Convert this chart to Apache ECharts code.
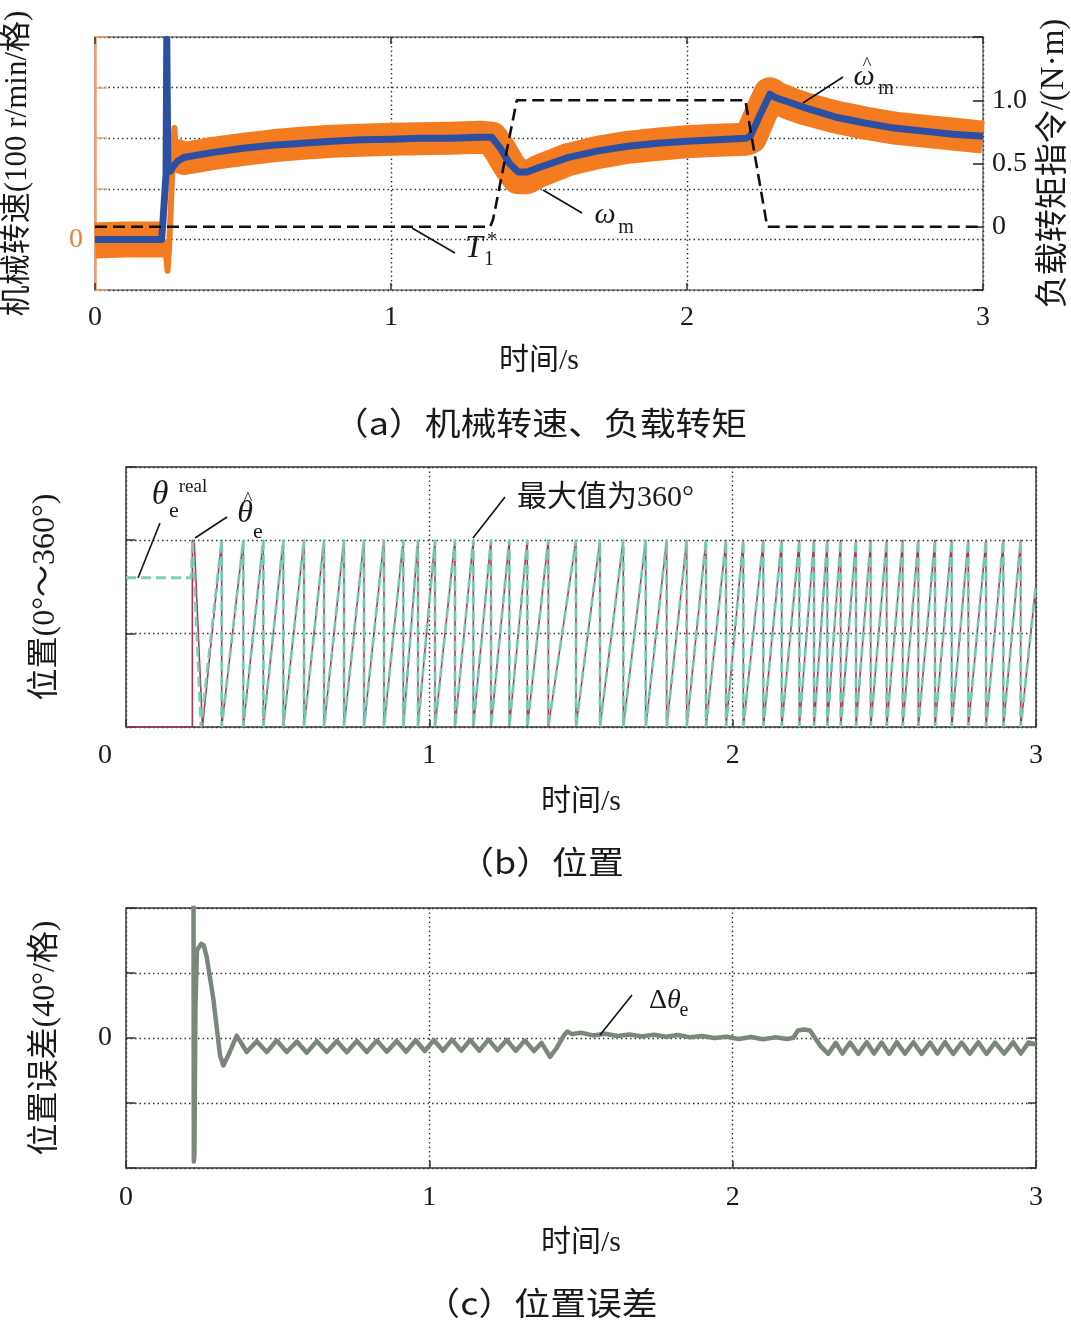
<!DOCTYPE html>
<html><head><meta charset="utf-8">
<script src="https://cdn.jsdelivr.net/npm/echarts@6/dist/echarts.min.js"></script>
<style>html,body{margin:0;padding:0;background:#fff}#c{width:1071px;height:1320px}</style>
</head><body><div id="c"></div>
<script>
// ---------------- DATA ----------------
const timeTicks = [0, 1, 2, 3];
const torqueTickLabels = { '0': '0', '0.5': '0.5', '1': '1.0' };
// (a) estimated mechanical speed, unit 100 r/min
const speedEstimate = [
  [0, 0.0], [0.1, 0.0], [0.2, 0.0], [0.225, 0.0], [0.229, 0.3], [0.24, 1.3], [0.2425, 3.95], [0.246, 1.5],
  [0.255, 1.35], [0.265, 1.45], [0.28, 1.55], [0.3, 1.62], [0.35, 1.67], [0.4, 1.72], [0.5, 1.8], [0.6, 1.86],
  [0.7, 1.9], [0.8, 1.94], [0.9, 1.97], [1.0, 1.98], [1.1, 2.0], [1.2, 2.0], [1.3, 2.02], [1.34, 2.02],
  [1.37, 1.8], [1.4, 1.5], [1.43, 1.33], [1.46, 1.33], [1.5, 1.42], [1.6, 1.62], [1.7, 1.75], [1.8, 1.84],
  [1.9, 1.9], [2.0, 1.94], [2.1, 1.97], [2.2, 2.0], [2.215, 2.05], [2.25, 2.5], [2.28, 2.87], [2.3, 2.8],
  [2.35, 2.7], [2.4, 2.6], [2.5, 2.42], [2.6, 2.3], [2.7, 2.2], [2.8, 2.14], [2.9, 2.08], [3.0, 2.04]
];
// (a) measured mechanical speed, unit 100 r/min: before start, start-up jump, after start
const speedMeasuredBefore = [[0, -0.02], [0.1, 0.0], [0.2, 0.0], [0.234, 0.0]];
const speedMeasuredJump = [
  [0.234, 0.0], [0.24, -0.3], [0.245, -0.62], [0.25, -0.2], [0.256, 0.6], [0.262, 1.5], [0.268, 2.2], [0.274, 1.7], [0.282, 1.65]
];
const speedMeasuredAfter = [
  [0.268, 1.62], [0.28, 1.65], [0.3, 1.6], [0.35, 1.65], [0.4, 1.7], [0.5, 1.78], [0.6, 1.85], [0.7, 1.9],
  [0.8, 1.94], [0.9, 1.96], [1.0, 1.98], [1.1, 1.99], [1.2, 2.0], [1.3, 2.02], [1.34, 2.0], [1.37, 1.75],
  [1.4, 1.45], [1.43, 1.22], [1.46, 1.22], [1.5, 1.35], [1.6, 1.58], [1.7, 1.72], [1.8, 1.82], [1.9, 1.88],
  [2.0, 1.93], [2.1, 1.96], [2.2, 1.98], [2.215, 2.02], [2.25, 2.5], [2.28, 2.88], [2.3, 2.8], [2.35, 2.68],
  [2.4, 2.58], [2.5, 2.42], [2.6, 2.3], [2.7, 2.2], [2.8, 2.14], [2.9, 2.08], [3.0, 2.02]
];
// (a) load torque command, N·m
const torqueCommand = [
  [0, 0], [1.335, 0], [1.345, 0.06], [1.425, 1.0], [2.197, 1.0], [2.271, 0], [3.0, 0]
];
// (b) electrical position: times (s) where the 0~360° sawtooth wraps
const thetaWrapTimes = [
  0.3155, 0.3867, 0.4527, 0.5186, 0.5868, 0.6528, 0.7187, 0.7846, 0.8505, 0.9142, 0.9626, 1.0187,
  1.0846, 1.1450, 1.2033, 1.2637, 1.3230, 1.3922, 1.4835, 1.5626, 1.6395, 1.7133, 1.7825, 1.8485,
  1.9121, 1.9780, 2.0351, 2.1011, 2.1617, 2.2197, 2.2682, 2.3120, 2.3562, 2.4066, 2.4551, 2.5078,
  2.5606, 2.6120, 2.6671, 2.7221, 2.7768, 2.8352, 2.8923, 2.9496
];
const thetaEstStart = [[0, 0], [0.2187, 0], [0.2187, 360], [0.2253, 352], [0.252, 0]];
const thetaRealStart = [[0, 287], [0.2145, 287], [0.2195, 360], [0.247, 0]];
const thetaTeethStart = 0.252;
const thetaEndValue = 275;
// (c) position error, degrees
const positionError = [
  [0.2225, 95], [0.2235, -76], [0.2255, -72], [0.229, 20], [0.234, 54], [0.248, 58], [0.256, 57], [0.266, 50],
  [0.288, 24], [0.31, -10.8], [0.321, -16.9], [0.337, -10.8], [0.365, 1.4],
  [0.398, -8.6], [0.431, -2.0], [0.464, -8.6], [0.497, -1.6], [0.53, -8.6], [0.563, -2.2], [0.596, -9.0],
  [0.629, -2.0], [0.662, -8.6], [0.695, -1.8], [0.728, -8.8], [0.761, -1.8], [0.794, -8.6], [0.827, -1.6],
  [0.86, -8.4], [0.892, -1.8], [0.924, -8.4], [0.955, -1.4], [0.985, -8.0], [1.015, -1.2], [1.045, -7.8],
  [1.075, -1.0], [1.105, -7.8], [1.135, -1.2], [1.165, -7.8], [1.195, -1.0], [1.225, -7.6], [1.255, -1.2],
  [1.285, -7.8], [1.315, -1.6], [1.345, -8.0], [1.37, -3.0], [1.398, -11.6], [1.42, -6.0], [1.445, 2.0],
  [1.455, 4.0], [1.47, 2.4], [1.5, 3.2], [1.54, 1.6], [1.58, 2.6], [1.62, 1.2], [1.66, 2.2], [1.7, 1.0],
  [1.74, 2.0], [1.78, 0.8], [1.82, 1.8], [1.86, 0.4], [1.9, 1.2], [1.94, 0.0], [1.98, 0.8], [2.02, -0.6],
  [2.06, 0.6], [2.1, -0.8], [2.14, 0.4], [2.18, -0.6], [2.2, 0.2], [2.215, 4.6], [2.235, 5.2], [2.255, 4.6],
  [2.27, 0.5], [2.29, -5.0], [2.315, -9.8],
  [2.34, -3.0], [2.362, -9.6], [2.387, -2.8], [2.414, -9.8], [2.442, -2.6], [2.466, -9.6], [2.491, -2.8],
  [2.516, -9.8], [2.541, -2.6], [2.568, -9.6], [2.596, -2.6], [2.623, -9.8], [2.651, -2.8], [2.675, -9.6],
  [2.7, -2.6], [2.727, -9.8], [2.755, -2.8], [2.782, -9.6], [2.81, -2.6], [2.837, -9.8], [2.865, -2.8],
  [2.895, -9.6], [2.925, -2.6], [2.95, -9.6], [2.975, -2.8], [3.0, -4.0]
];

// ---------------- BUILD ----------------
function teeth(prefix) {
  const pts = prefix.slice();
  pts.push([thetaTeethStart, 0]);
  thetaWrapTimes.forEach(w => { pts.push([w, 360]); pts.push([w, 0]); });
  pts.push([3, thetaEndValue]);
  return pts;
}

const SERIF = "'Liberation Serif','Noto Sans CJK SC',serif";
const CJK = "'Noto Sans CJK SC','Liberation Serif',sans-serif";
const INK = '#1a1a1a';
const lbl = { fontFamily: SERIF, fontSize: 28, color: INK };
const dotted = { show: true, lineStyle: { color: '#333', width: 1.4, type: [1.5, 3] } };
const noLine = { show: false, onZero: false };
const tickIn = (len, color) => ({ show: true, inside: true, length: len, lineStyle: { color: color || '#333', width: 1.5 } });
const nameStyle = { fontFamily: SERIF, fontSize: 31, color: INK };

function xAxisFor(grid, extra) {
  return Object.assign({
    gridIndex: grid, type: 'value', min: 0, max: 3, interval: 1, position: 'bottom',
    axisLine: noLine, axisTick: tickIn(7),
    splitLine: dotted,
    axisLabel: Object.assign({ margin: 14, formatter: v => (timeTicks.indexOf(v) >= 0 ? String(v) : '') }, lbl),
    name: '时间/s', nameLocation: 'middle', nameGap: 56,
    nameTextStyle: { fontFamily: SERIF, fontSize: 30, color: INK }
  }, extra || {});
}

const chart = echarts.init(document.getElementById('c'), null, { renderer: 'canvas' });

const option = {
  animation: false,
  backgroundColor: '#fff',
  grid: [
    { left: 95, top: 37, width: 888, height: 253, show: true, borderColor: '#777', borderWidth: 1.5, outerBoundsMode: 'none', containLabel: false },
    { left: 126, top: 467, width: 910, height: 260, show: true, borderColor: '#3a3a3a', borderWidth: 1.5, outerBoundsMode: 'none', containLabel: false },
    { left: 126, top: 908, width: 910, height: 260, show: true, borderColor: '#3a3a3a', borderWidth: 1.5, outerBoundsMode: 'none', containLabel: false }
  ],
  xAxis: [
    xAxisFor(0),
    { gridIndex: 0, type: 'value', min: 0, max: 3, interval: 1, position: 'top', axisLine: noLine,
      axisTick: tickIn(7), axisLabel: { show: false }, splitLine: { show: false } },
    xAxisFor(1, {
      nameGap: 60, axisLabel: Object.assign({ margin: 15,
        formatter: v => (v === 0 ? '{s|0}' : (timeTicks.indexOf(v) >= 0 ? String(v) : '')),
        rich: { s: { padding: [0, 42, 0, 0], fontFamily: SERIF, fontSize: 28, color: INK } } }, lbl)
    }),
    xAxisFor(2, { nameGap: 60, axisLabel: Object.assign({ margin: 16,
        formatter: v => (timeTicks.indexOf(v) >= 0 ? String(v) : '') }, lbl) })
  ],
  yAxis: [
    { gridIndex: 0, type: 'value', min: -1, max: 4, interval: 1, position: 'left',
      axisLine: { show: true, onZero: false, lineStyle: { color: '#f2a274', width: 2.5 } },
      axisTick: tickIn(12, '#f2a274'), splitLine: dotted,
      axisLabel: { margin: 12, fontFamily: SERIF, fontSize: 28, color: '#e8803c', formatter: v => (v === 0 ? '0' : '') },
      name: '机械转速(100 r/min/格)', nameLocation: 'middle', nameRotate: 90, nameGap: 62, nameTextStyle: nameStyle },
    { gridIndex: 0, type: 'value', min: -0.5, max: 1.5, interval: 0.5, position: 'right',
      axisLine: noLine, axisTick: tickIn(10, '#222'), splitLine: { show: false },
      axisLabel: Object.assign({ margin: 9, formatter: v => (torqueTickLabels[String(v)] || '') }, lbl),
      name: '负载转矩指令/(N·m)', nameLocation: 'middle', nameRotate: 90, nameGap: 54, nameTextStyle: Object.assign({}, nameStyle, { fontSize: 33 }) },
    { gridIndex: 1, type: 'value', min: 0, max: 500, interval: 180, position: 'left',
      axisLine: noLine, axisTick: tickIn(9), splitLine: dotted, axisLabel: { show: false },
      name: '位置(0°～360°)', nameLocation: 'middle', nameRotate: 90, nameGap: 64, nameTextStyle: Object.assign({}, nameStyle, { fontSize: 32 }) },
    { gridIndex: 2, type: 'value', min: -80, max: 80, interval: 40, position: 'left',
      axisLine: noLine, axisTick: tickIn(9), splitLine: dotted,
      axisLabel: Object.assign({ margin: 14, formatter: v => (v === 0 ? '0' : '') }, lbl),
      name: '位置误差(40°/格)', nameLocation: 'middle', nameRotate: 90, nameGap: 64, nameTextStyle: Object.assign({}, nameStyle, { fontSize: 32 }) },
    { gridIndex: 2, type: 'value', min: -80, max: 80, interval: 40, position: 'right',
      axisLine: noLine, axisTick: tickIn(8), splitLine: { show: false }, axisLabel: { show: false } }
  ],
  series: [
    { name: 'ωm', type: 'line', xAxisIndex: 0, yAxisIndex: 0, data: speedMeasuredBefore, symbol: 'none', silent: true,
      lineStyle: { color: '#f47b20', width: 36 }, z: 2 },
    { name: 'ωm', type: 'line', xAxisIndex: 0, yAxisIndex: 0, data: speedMeasuredJump, symbol: 'none', silent: true,
      lineStyle: { color: '#f47b20', width: 6, join: 'round' }, z: 2 },
    { name: 'ωm', type: 'line', xAxisIndex: 0, yAxisIndex: 0, data: speedMeasuredAfter, symbol: 'none', silent: true,
      lineStyle: { color: '#f47b20', width: 33, join: 'round' }, z: 2 },
    { name: 'ω̂m', type: 'line', xAxisIndex: 0, yAxisIndex: 0, data: speedEstimate, symbol: 'none', silent: true,
      lineStyle: { color: '#2a4fa3', width: 7, join: 'round' }, z: 3 },
    { name: 'T1*', type: 'line', xAxisIndex: 0, yAxisIndex: 1, data: torqueCommand, symbol: 'none', silent: true,
      lineStyle: { color: '#111', width: 2.6, type: [12, 6] }, z: 4 },
    { name: 'θ̂e', type: 'line', xAxisIndex: 2, yAxisIndex: 2, data: teeth(thetaEstStart), symbol: 'none', silent: true,
      lineStyle: { color: '#b3334f', width: 1.6 }, z: 2 },
    { name: 'θe real', type: 'line', xAxisIndex: 2, yAxisIndex: 2, data: teeth(thetaRealStart), symbol: 'none', silent: true,
      lineStyle: { color: '#74ccb9', width: 2.8, type: [10, 5], opacity: 0.95 }, z: 3 },
    { name: 'Δθe', type: 'line', xAxisIndex: 3, yAxisIndex: 3, data: positionError, symbol: 'none', silent: true,
      lineStyle: { color: '#7a877a', width: 4.5, join: 'round' }, z: 2 }
  ]
};

// annotations (symbols, leader lines, captions)
function txt(x, y, text, size, opts) {
  opts = opts || {};
  const el = { type: 'text', x: x, y: y, silent: true, z: 100,
    style: { text: text, fontFamily: opts.family || SERIF, fontSize: size, fontStyle: opts.italic ? 'italic' : 'normal',
      fontWeight: opts.weight || 'normal', fill: opts.color || INK, align: opts.align || 'center', verticalAlign: 'middle' } };
  if (opts.scaleX) { el.scaleX = opts.scaleX; }
  return el;
}
function leader(x1, y1, x2, y2) {
  return { type: 'line', silent: true, z: 100, shape: { x1: x1, y1: y1, x2: x2, y2: y2 }, style: { stroke: '#111', lineWidth: 1.6 } };
}
option.graphic = [
  // (a)
  leader(803, 103, 843, 77), txt(864, 77, 'ω', 30, { italic: true }), txt(867, 65, '^', 19), txt(886, 89, 'm', 20),
  leader(543, 190, 582, 213), txt(605, 215, 'ω', 30, { italic: true }), txt(626, 228, 'm', 20),
  leader(412, 228, 455, 253), txt(474, 249, 'T', 32, { italic: true }), txt(489, 260, '1', 20), txt(492, 241, '*', 20),
  txt(540, 423, '（a）机械转速、负载转矩', 32, { family: CJK, scaleX: 1.12 }),
  // (b)
  txt(160, 495, 'θ', 34, { italic: true }), txt(174, 511, 'e', 22), txt(193, 487, 'real', 19),
  leader(160, 523, 138, 578),
  txt(245, 514, 'θ', 32, { italic: true }), txt(248, 500, '^', 19), txt(258, 532, 'e', 22),
  leader(227, 517, 195, 538),
  txt(517, 498, '最大值为360°', 30, { family: SERIF, align: 'left' }),
  leader(505, 497, 473, 538),
  txt(541, 862, '（b）位置', 32, { family: CJK, scaleX: 1.12 }),
  // (c)
  leader(600, 1035, 632, 995), txt(658, 1001, 'Δ', 28), txt(667, 1001, 'θ', 28, { italic: true, align: 'left' }), txt(684, 1011, 'e', 20),
  txt(541, 1303, '（c）位置误差', 32, { family: CJK, scaleX: 1.12 })
];

chart.setOption(option);
</script>
</body></html>
